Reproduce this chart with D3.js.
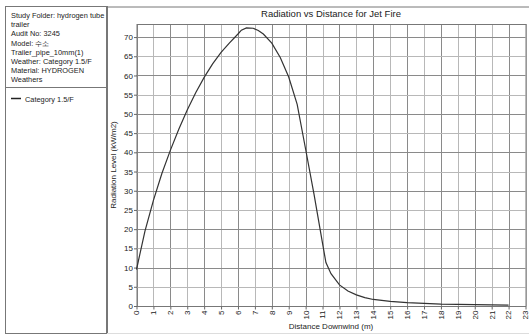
<!DOCTYPE html>
<html>
<head>
<meta charset="utf-8">
<script src="https://cdn.jsdelivr.net/npm/d3@7"></script>
<style>
  body{margin:0;background:#fff;}
  text{font-family:"Liberation Sans",Arial,sans-serif;fill:#222;}
</style>
</head>
<body>
<div id="chart"></div>
<script>
// distance downwind (m) and radiation level (kW/m2)
var distance=[0,0.5,1,1.5,2,2.5,3,3.5,4,4.5,5,5.5,6,6.2,6.5,6.9,7.2,7.5,8,8.5,9,9.5,10,10.5,11,11.2,11.5,12,12.5,13,13.5,14,15,16,17,18,19,20,21,22];
var radiation=[9.5,19.5,27.5,34.5,40.5,46,51,55.5,59.5,63,66,68.5,70.8,71.8,72.4,72.3,71.7,70.8,68.4,64.7,59.6,52.5,40.8,29,16.3,11.3,8.4,5.5,3.9,2.9,2.2,1.7,1.2,0.9,0.7,0.5,0.4,0.35,0.3,0.25];
var xTicks=d3.range(0,24);
var yTicks=d3.range(0,75,5);
var infoLines=["Study Folder: hydrogen tube","trailer","Audit No: 3245","Model: 수소","Trailer_pipe_10mm(1)","Weather: Category 1.5/F","Material: HYDROGEN","Weathers"];
var seriesName="Category 1.5/F";

var width=529,height=335;
var svg=d3.select("#chart").append("svg")
    .attr("width",width)
    .attr("height",height);

// left info panel
svg.append("rect")
    .attr("x",5.5).attr("y",6.5)
    .attr("width",102).attr("height",327)
    .attr("fill","none").attr("stroke","#777");
svg.append("line")
    .attr("x1",5.5).attr("x2",107).attr("y1",87.5).attr("y2",87.5)
    .attr("stroke","#777");
svg.selectAll(".info").data(infoLines).enter().append("text")
    .attr("class","info")
    .attr("x",11)
    .attr("y",function(d,i){return 18+i*9.2})
    .style("font-size","7.4px")
    .text(function(d){return d});

// legend
svg.append("line")
    .attr("x1",11).attr("x2",21).attr("y1",98.5).attr("y2",98.5)
    .attr("stroke","#222").attr("stroke-width",1.5);
svg.append("text")
    .attr("x",25).attr("y",101.5)
    .style("font-size","7.4px")
    .text(seriesName);

// right panel frame
svg.append("line")
    .attr("x1",107).attr("x2",width).attr("y1",7).attr("y2",7)
    .attr("stroke","#777");
svg.append("line")
    .attr("x1",107).attr("x2",107).attr("y1",6).attr("y2",334)
    .attr("stroke","#777").attr("stroke-width",2);
svg.append("line")
    .attr("x1",107).attr("x2",width).attr("y1",333.5).attr("y2",333.5)
    .attr("stroke","#ddd");

var pLeft=136.5,pRight=525.5,pTop=24,pBottom=306;
var x=d3.scaleLinear().domain([0,23]).range([pLeft,pRight]);
var y=d3.scaleLinear().domain([0,73.4]).range([pBottom,pTop]);

// grid
var g=svg.append("g");
g.selectAll(".vgrid").data(xTicks).enter().append("line")
    .attr("class","vgrid")
    .attr("x1",function(d){return Math.round(x(d))+0.5})
    .attr("x2",function(d){return Math.round(x(d))+0.5})
    .attr("y1",pTop).attr("y2",pBottom)
    .attr("stroke",function(d,i){return i%2?"#b8b8b8":"#8a8a8a"});
g.selectAll(".hgrid").data(yTicks).enter().append("line")
    .attr("class","hgrid")
    .attr("x1",pLeft).attr("x2",pRight)
    .attr("y1",function(d){return Math.round(y(d))+0.5})
    .attr("y2",function(d){return Math.round(y(d))+0.5})
    .attr("stroke",function(d,i){return i%2?"#b8b8b8":"#8a8a8a"});
g.append("rect")
    .attr("x",pLeft+0.5).attr("y",pTop+0.5)
    .attr("width",pRight-pLeft).attr("height",pBottom-pTop)
    .attr("fill","none").attr("stroke","#777");

// axes
var yAxis=d3.axisLeft(y).tickValues(yTicks).tickSize(3).tickPadding(1);
var yg=svg.append("g").attr("transform","translate("+(pLeft+0.5)+",0)").call(yAxis);
yg.select(".domain").remove();
yg.selectAll("line").attr("stroke","#666");
yg.selectAll("text").style("font-size","8px").attr("fill","#222");

var xAxis=d3.axisBottom(x).tickValues(xTicks).tickSize(3);
var xg=svg.append("g").attr("transform","translate(0,"+(pBottom+0.5)+")").call(xAxis);
xg.select(".domain").remove();
xg.selectAll("line").attr("stroke","#666");
xg.selectAll(".tick text")
    .style("font-size","8px").attr("fill","#222")
    .attr("text-anchor","end")
    .attr("transform","rotate(-90)")
    .attr("x",-4).attr("y",0).attr("dy","0.3em");

// titles
svg.append("text")
    .attr("x",(pLeft+pRight)/2).attr("y",17)
    .attr("text-anchor","middle")
    .style("font-size","9.5px")
    .text("Radiation vs Distance for Jet Fire");
svg.append("text")
    .attr("x",(pLeft+pRight)/2).attr("y",329)
    .attr("text-anchor","middle")
    .style("font-size","8px")
    .text("Distance Downwind (m)");
svg.append("text")
    .attr("transform","translate(116,"+((pTop+pBottom)/2)+") rotate(-90)")
    .attr("text-anchor","middle")
    .style("font-size","8px")
    .text("Radiation Level (kW/m2)");

// curve
var line=d3.line()
    .x(function(d){return x(d[0])})
    .y(function(d){return y(d[1])});
svg.append("path")
    .datum(d3.zip(distance,radiation))
    .attr("d",line)
    .attr("fill","none")
    .attr("stroke","#333")
    .attr("stroke-width",1.2);
</script>
</body>
</html>
